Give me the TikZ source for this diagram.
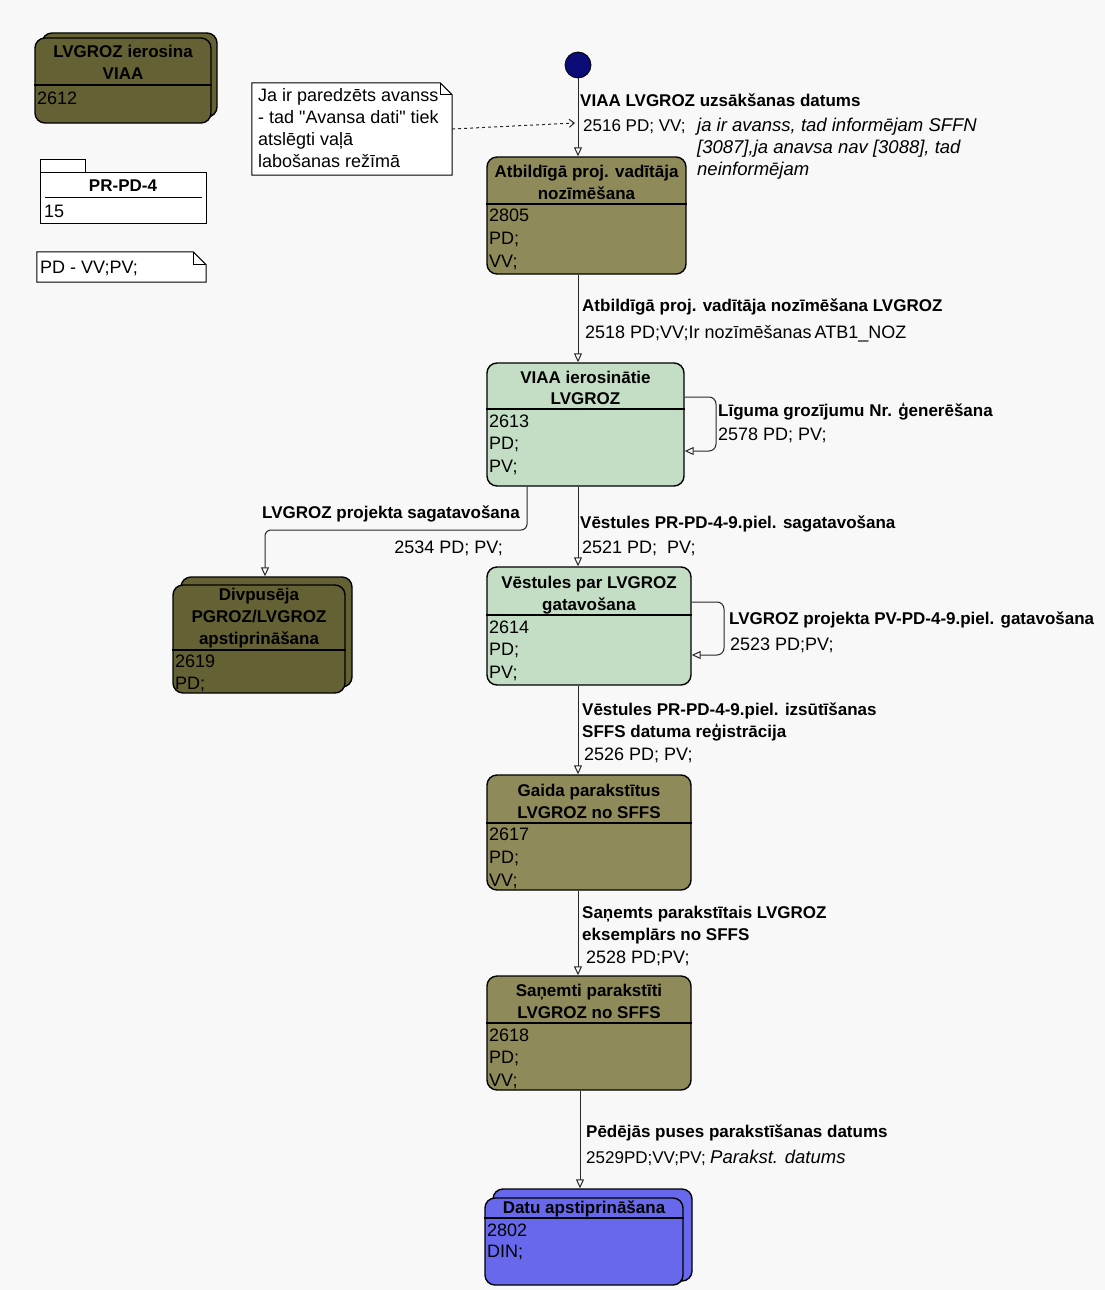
\documentclass[tikz,border=0pt]{standalone}
\usepackage{fontspec}
\setmainfont{Liberation Sans}
\usetikzlibrary{arrows.meta}
\definecolor{bgc}{RGB}{248,248,248}
\definecolor{darkolive}{RGB}{100,97,52}
\definecolor{liteolive}{RGB}{143,138,90}
\definecolor{litegreen}{RGB}{196,222,198}
\definecolor{stblue}{RGB}{104,104,236}
\definecolor{navy}{RGB}{12,12,120}
\definecolor{linec}{RGB}{40,40,40}
\newcommand\fsz{\fontsize{17}{20}\selectfont}
\newcommand\fszr{\fontsize{18}{21}\selectfont}
\newcommand\fszi{\fontsize{18.5}{21}\selectfont}
\begin{document}
\begin{tikzpicture}[x=1pt,y=-1pt,
  stbox/.style={draw=black, line width=1.4pt, rounded corners=10pt, inner sep=0pt},
  plainbox/.style={draw=black, line width=1pt, inner sep=0pt, fill=white},
  lbl/.style={inner sep=0pt, anchor=base west, font=\fszr},
  slbl/.style={lbl, font=\fsz},
  blbl/.style={lbl, font=\fsz\bfseries},
  ilbl/.style={lbl, font=\fszi\itshape},
  elbl/.style={inner sep=0pt, anchor=base east, font=\fszr},
  belbl/.style={elbl, font=\fsz\bfseries},
  ttl/.style={inner sep=0pt, anchor=base, font=\fsz\bfseries},
  divl/.style={line width=1.2pt},
  arr/.style={draw=linec, line width=1pt, -{Triangle[open,length=9pt,width=8pt]}},
  dotarr/.style={draw=linec, line width=1pt, dash pattern=on 3pt off 3pt, -{Straight Barb[length=5pt,width=8pt]}}
]
\fill[bgc] (0,0) rectangle (1105,1290);
\useasboundingbox (0,0) rectangle (1105,1290);

% ---------- top-left legend items ----------
\node[stbox, fill=darkolive, minimum width=175pt, minimum height=84pt] (TLb) at (129.5,75) {};
\node[stbox, fill=darkolive, minimum width=176pt, minimum height=85pt] (TL) at (123,80.5) {};
\draw[divl] (TL.west |- 0,85) -- (TL.east |- 0,85);
\node[ttl] (tl1) at (123,58) {LVGROZ ierosina};
\node[ttl] (tl2) at (123,79) {VIAA};
\node[lbl] (tl3) at (37,104) {2612};

\node[plainbox, minimum width=45pt, minimum height=13pt] (pkgtab) at (62.5,165.5) {};
\node[plainbox, minimum width=166pt, minimum height=51pt] (pkg) at (123,197.5) {};
\draw[line width=1pt] (45,197) -- (202,197);
\node[ttl] (pk1) at (123,191) {PR-PD-4};
\node[lbl] (pk2) at (44,217) {15};

\node[inner sep=0pt, minimum width=169pt, minimum height=30pt] (legnote) at (121.5,267) {};
\draw[line width=1pt, fill=white] (legnote.north west) -- ([xshift=-13pt]legnote.north east) -- ([yshift=-13pt]legnote.north east) -- (legnote.south east) -- (legnote.south west) -- cycle;
\draw[line width=0.8pt] ([xshift=-13pt]legnote.north east) -- ([xshift=-13pt,yshift=-13pt]legnote.north east) -- ([yshift=-13pt]legnote.north east);
\node[lbl] (ln1) at (40,273) {PD - VV;PV;};

% ---------- note ----------
\node[inner sep=0pt, minimum width=200pt, minimum height=92pt] (note) at (352,129) {};
\draw[line width=1pt, fill=white] (note.north west) -- ([xshift=-12pt]note.north east) -- ([yshift=-12pt]note.north east) -- (note.south east) -- (note.south west) -- cycle;
\draw[line width=0.8pt] ([xshift=-12pt]note.north east) -- ([xshift=-12pt,yshift=-12pt]note.north east) -- ([yshift=-12pt]note.north east);
\node[lbl] (n1) at (258,101) {Ja ir paredzēts avanss};
\node[lbl] (n2) at (258,123) {- tad \textquotedbl Avansa dati\textquotedbl{} tiek};
\node[lbl] (n3) at (258,145) {atslēgti vaļā};
\node[lbl] (n4) at (258,167) {labošanas režīmā};

% ---------- initial ----------
\node[circle, fill=navy, draw=black, line width=0.8pt, minimum size=26pt, inner sep=0pt] (init) at (578,65) {};

% ---------- states ----------
\node[stbox, fill=liteolive, minimum width=199pt, minimum height=117pt] (A) at (586.5,215.5) {};
\draw[divl] (A.west |- 0,204) -- (A.east |- 0,204);
\node[ttl] (a1) at (586.5,177) {Atbildīgā proj. vadītāja};
\node[ttl] (a2) at (586.5,199) {nozīmēšana};
\node[lbl] (a3) at (489,221) {2805};
\node[lbl] (a4) at (489,244) {PD;};
\node[lbl] (a5) at (489,267) {VV;};

\node[stbox, fill=litegreen, minimum width=197pt, minimum height=123pt] (B) at (585.5,424.5) {};
\draw[divl] (B.west |- 0,409) -- (B.east |- 0,409);
\node[ttl] (b1) at (585.5,383) {VIAA ierosinātie};
\node[ttl] (b2) at (585.5,404) {LVGROZ};
\node[lbl] (b3) at (489,427) {2613};
\node[lbl] (b4) at (489,449) {PD;};
\node[lbl] (b5) at (489,472) {PV;};

\node[stbox, fill=darkolive, minimum width=171pt, minimum height=110pt] (Divb) at (266.5,632) {};
\node[stbox, fill=darkolive, minimum width=172pt, minimum height=108pt] (Div) at (259,639) {};
\draw[divl] (Div.west |- 0,650) -- (Div.east |- 0,650);
\node[ttl] (d1) at (259,600) {Divpusēja};
\node[ttl] (d2) at (259,622) {PGROZ/LVGROZ};
\node[ttl] (d3) at (259,644) {apstiprināšana};
\node[lbl] (d4) at (175,667) {2619};
\node[lbl] (d5) at (175,689) {PD;};

\node[stbox, fill=litegreen, minimum width=204pt, minimum height=118pt] (C) at (589,626) {};
\draw[divl] (C.west |- 0,615) -- (C.east |- 0,615);
\node[ttl] (c1) at (589,588) {Vēstules par LVGROZ};
\node[ttl] (c2) at (589,610) {gatavošana};
\node[lbl] (c3) at (489,633) {2614};
\node[lbl] (c4) at (489,655) {PD;};
\node[lbl] (c5) at (489,678) {PV;};

\node[stbox, fill=liteolive, minimum width=204pt, minimum height=115pt] (D) at (589,832.5) {};
\draw[divl] (D.west |- 0,823) -- (D.east |- 0,823);
\node[ttl] (e1) at (589,796) {Gaida parakstītus};
\node[ttl] (e2) at (589,818) {LVGROZ no SFFS};
\node[lbl] (e3) at (489,840) {2617};
\node[lbl] (e4) at (489,863) {PD;};
\node[lbl] (e5) at (489,886) {VV;};

\node[stbox, fill=liteolive, minimum width=204pt, minimum height=114pt] (E) at (589,1033) {};
\draw[divl] (E.west |- 0,1023) -- (E.east |- 0,1023);
\node[ttl] (f1) at (589,996) {Saņemti parakstīti};
\node[ttl] (f2) at (589,1018) {LVGROZ no SFFS};
\node[lbl] (f3) at (489,1041) {2618};
\node[lbl] (f4) at (489,1063) {PD;};
\node[lbl] (f5) at (489,1086) {VV;};

\node[stbox, fill=stblue, minimum width=199pt, minimum height=92pt] (Fb) at (592.5,1235) {};
\node[stbox, fill=stblue, minimum width=198pt, minimum height=87pt] (F) at (584,1241.5) {};
\draw[divl] (F.west |- 0,1218) -- (F.east |- 0,1218);
\node[ttl] (g1) at (584,1213) {Datu apstiprināšana};
\node[lbl] (g2) at (487,1236) {2802};
\node[lbl] (g3) at (487,1257) {DIN;};

% ---------- connectors ----------
\coordinate (dtip) at (575,123);
\draw[dotarr] (note.east) -- (dtip);
\draw[arr] (init.south) -- (init.south |- A.north);
\draw[arr] (A.south -| init) -- (B.north -| init);
\draw[arr] (B.south -| init) -- (C.north -| init);
\draw[arr] (C.south -| init) -- (D.north -| init);
\draw[arr] (D.south -| init) -- (E.north -| init);
\coordinate (xf) at (580,0);
\draw[arr] (E.south -| xf) -- (Fb.north -| xf);

\coordinate (brk1) at (527,530);
\coordinate (brk2) at (265,530);
\draw[arr, rounded corners=6pt] (B.south -| brk1) -- (brk1) -- (brk2) -- (brk2 |- Divb.north);

\coordinate (lb1) at (716,397);
\coordinate (lb2) at (716,451);
\draw[arr, rounded corners=7pt] (B.east |- lb1) -- (lb1) -- (lb2) -- (B.east |- lb2);

\coordinate (lc1) at (724,602);
\coordinate (lc2) at (724,655);
\draw[arr, rounded corners=7pt] (C.east |- lc1) -- (lc1) -- (lc2) -- (C.east |- lc2);

% ---------- edge labels ----------
\node[blbl] (t01) at (580,106) {VIAA LVGROZ uzsākšanas datums};
\node[slbl] (t02) at (583,131) {2516 PD; VV;};
\node[ilbl] (t03) at (697,131) {ja ir avanss, tad informējam SFFN};
\node[ilbl] (t04) at (697,153) {[3087],ja anavsa nav [3088], tad};
\node[ilbl] (t05) at (697,175) {neinformējam};

\node[blbl] (t06) at (582,311) {Atbildīgā proj. vadītāja nozīmēšana LVGROZ};
\node[lbl] (t07) at (585,338) {2518 PD;VV;Ir nozīmēšanas\,ATB1\_NOZ};

\node[blbl] (t08) at (718,416) {Līguma grozījumu Nr. ģenerēšana};
\node[lbl] (t09) at (718,440) {2578 PD; PV;};

\node[belbl] (t10) at (520,518) {LVGROZ projekta sagatavošana};
\node[elbl] (t11) at (503,553) {2534 PD; PV;};

\node[blbl] (t12) at (580,528) {Vēstules PR-PD-4-9.piel. sagatavošana};
\node[lbl] (t13) at (582,553) {2521 PD;\ \ PV;};

\node[blbl] (t14) at (729,624) {LVGROZ projekta PV-PD-4-9.piel. gatavošana};
\node[lbl] (t15) at (730,650) {2523 PD;PV;};

\node[blbl] (t16) at (582,715) {Vēstules PR-PD-4-9.piel. izsūtīšanas};
\node[blbl] (t17) at (582,737) {SFFS datuma reģistrācija};
\node[lbl] (t18) at (584,760) {2526 PD; PV;};

\node[blbl] (t19) at (582,918) {Saņemts parakstītais LVGROZ};
\node[blbl] (t20) at (582,940) {eksemplārs no SFFS};
\node[lbl] (t21) at (586,963) {2528 PD;PV;};

\node[blbl] (t22) at (586,1137) {Pēdējās puses parakstīšanas datums};
\node[slbl] (t23) at (586,1163) {2529PD;VV;PV;};
\node[ilbl] (t24) at (710,1163) {Parakst. datums};
\end{tikzpicture}
\end{document}
